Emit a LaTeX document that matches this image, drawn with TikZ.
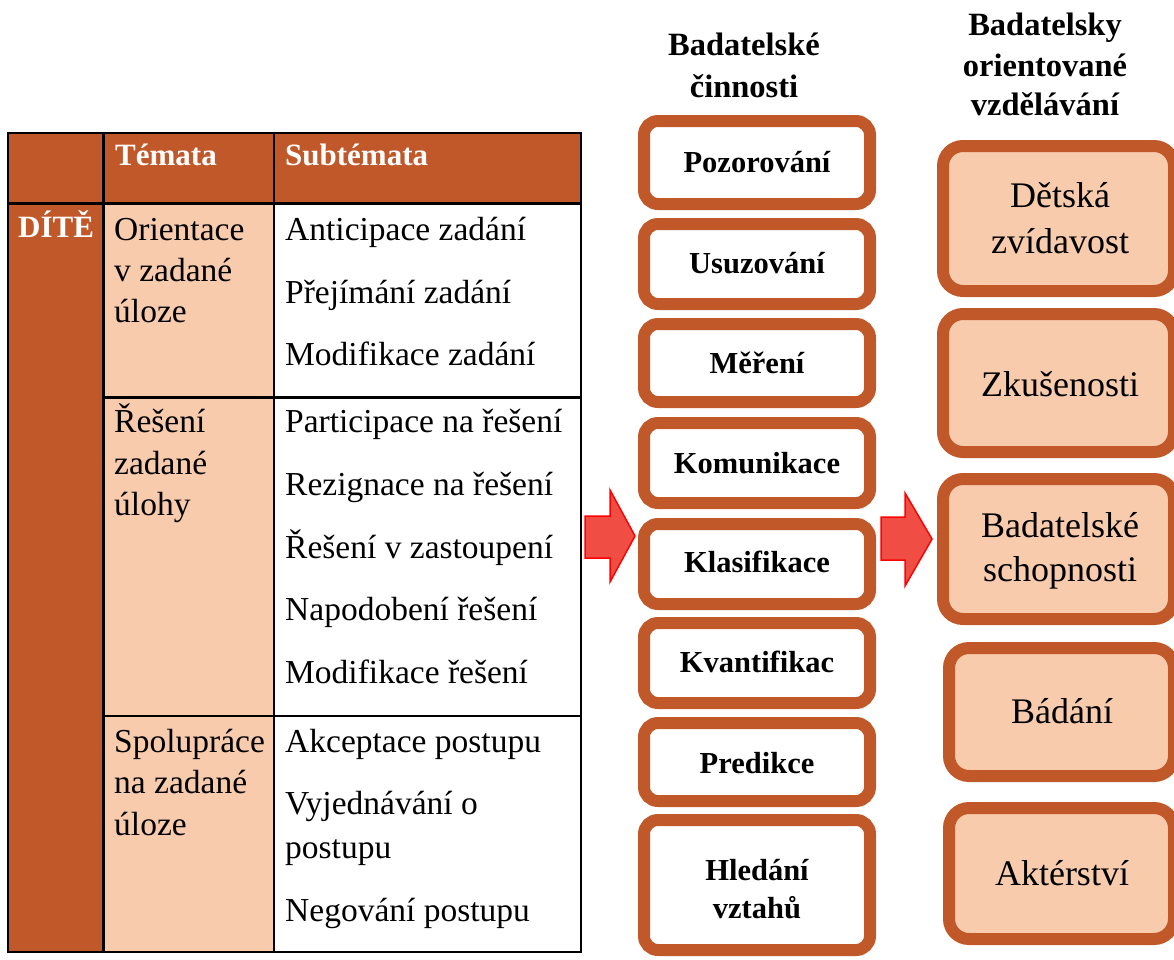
\documentclass[tikz,border=0pt]{standalone}
\usepackage{fontspec}
\setmainfont{Liberation Serif}
\definecolor{orng}{RGB}{193,88,42}
\definecolor{peach}{RGB}{248,203,173}
\definecolor{arrfill}{RGB}{240,78,68}
\begin{document}
\begin{tikzpicture}[x=1pt,y=-1pt,
  body/.style={anchor=base west, inner sep=0pt, font=\fontsize{33.5}{40}\selectfont},
  head/.style={anchor=base west, inner sep=0pt, text=white, font=\fontsize{31}{38}\selectfont\bfseries},
  ttl/.style={anchor=base, inner sep=0pt, font=\fontsize{32.5}{38}\selectfont\bfseries},
  tline/.style={draw=black, line width=2.5pt},
  midbox/.style={draw=orng, line width=12pt, fill=white, rounded corners=14pt, minimum width=226pt, inner sep=0pt},
  midtxt/.style={anchor=base, inner sep=0pt, font=\fontsize{30.5}{38}\selectfont\bfseries},
  rbox/.style={draw=orng, line width=12pt, fill=peach, rounded corners=20pt, inner sep=0pt},
  rtxt/.style={anchor=base, inner sep=0pt, font=\fontsize{36}{45}\selectfont},
  blockarrow/.style={fill=arrfill, draw=red, line width=1.5pt, line join=miter}
]
\useasboundingbox (0,0) rectangle (1174,959);
\clip (0,0) rectangle (1174,959);
\fill[white] (0,0) rectangle (1174,959);

% ---------- table ----------
\fill[orng] (8,133) rectangle (581,203.5);
\fill[orng] (8,203.5) rectangle (103.5,952);
\fill[peach] (103.5,203.5) rectangle (274,952);
\draw[tline] (8,133) rectangle (581,952);
\draw[tline] (103.5,133) -- (103.5,952);
\draw[tline] (274,133) -- (274,952);
\draw[tline] (8,203.5) -- (581,203.5);
\draw[tline] (103.5,397.5) -- (581,397.5);
\draw[tline] (103.5,716) -- (581,716);

\node[head] (hT) at (115,165) {Témata};
\node[head] (hS) at (285,165) {Subtémata};
\node[head] (hD) at (18,237) {DÍTĚ};

\node[body] (t1a) at (114,240) {Orientace};
\node[body] (t1b) at (114,281) {v zadané};
\node[body] (t1c) at (114,322) {úloze};
\node[body] (t2a) at (114,432) {Řešení};
\node[body] (t2b) at (114,474) {zadané};
\node[body] (t2c) at (114,515) {úlohy};
\node[body] (t3a) at (114,752) {Spolupráce};
\node[body] (t3b) at (114,793) {na zadané};
\node[body] (t3c) at (114,835) {úloze};

\node[body] (s11) at (285,240) {Anticipace zadání};
\node[body] (s12) at (285,303) {Přejímání zadání};
\node[body] (s13) at (285,365) {Modifikace zadání};
\node[body] (s21) at (285,432) {Participace na řešení};
\node[body] (s22) at (285,495) {Rezignace na řešení};
\node[body] (s23) at (285,558) {Řešení v zastoupení};
\node[body] (s24) at (285,620) {Napodobení řešení};
\node[body] (s25) at (285,683) {Modifikace řešení};
\node[body] (s31) at (285,752) {Akceptace postupu};
\node[body] (s32) at (285,814) {Vyjednávání o};
\node[body] (s32b) at (285,858) {postupu};
\node[body] (s33) at (285,921) {Negování postupu};

% ---------- titles ----------
\node[ttl] (tm1) at (744,55) {Badatelské};
\node[ttl] (tm2) at (744,97) {činnosti};
\node[ttl] (tr1) at (1045,35) {Badatelsky};
\node[ttl] (tr2) at (1045,76) {orientované};
\node[ttl] (tr3) at (1045,115) {vzdělávání};

% ---------- middle boxes ----------
\node[midbox, minimum height=83pt] (m1) at (757,162.5) {};
\node[midtxt] at (757,172) {Pozorování};
\node[midbox, minimum height=80pt] (m2) at (757,264) {};
\node[midtxt] at (757,273) {Usuzování};
\node[midbox, minimum height=78pt] (m3) at (757,363) {};
\node[midtxt] at (757,373) {Měření};
\node[midbox, minimum height=80pt] (m4) at (757,463) {};
\node[midtxt] at (757,473) {Komunikace};
\node[midbox, minimum height=80pt] (m5) at (757,564) {};
\node[midtxt] at (757,572) {Klasifikace};
\node[midbox, minimum height=80pt] (m6) at (757,663) {};
\node[midtxt] at (757,672) {Kvantifikac};
\node[midbox, minimum height=78pt] (m7) at (757,762) {};
\node[midtxt] at (757,773) {Predikce};
\node[midbox, minimum height=130pt] (m8) at (757,885) {};
\node[midtxt] at (757,880) {Hledání};
\node[midtxt] at (757,918) {vztahů};

% ---------- right boxes ----------
\node[rbox, minimum width=231pt, minimum height=145pt] (r1) at (1058.5,218.5) {};
\node[rtxt] at (1060,207) {Dětská};
\node[rtxt] at (1060,253) {zvídavost};
\node[rbox, minimum width=231pt, minimum height=138pt] (r2) at (1058.5,383) {};
\node[rtxt] at (1060,396) {Zkušenosti};
\node[rbox, minimum width=231pt, minimum height=140pt] (r3) at (1058.5,549) {};
\node[rtxt] at (1060,537) {Badatelské};
\node[rtxt] at (1060,581) {schopnosti};
\node[rbox, minimum width=225pt, minimum height=128pt] (r4) at (1061.5,712) {};
\node[rtxt] at (1062,723) {Bádání};
\node[rbox, minimum width=225pt, minimum height=131pt] (r5) at (1061.5,873.5) {};
\node[rtxt] at (1062,885) {Aktérství};

% ---------- block arrows ----------
\draw[blockarrow] (585,516) -- (610,516) -- (610,490) -- (635,536) -- (610,582) -- (610,558) -- (585,558) -- cycle;
\draw[blockarrow] (881,517) -- (905,517) -- (905,493) -- (932,539) -- (905,586) -- (905,560) -- (881,560) -- cycle;
\end{tikzpicture}
\end{document}
